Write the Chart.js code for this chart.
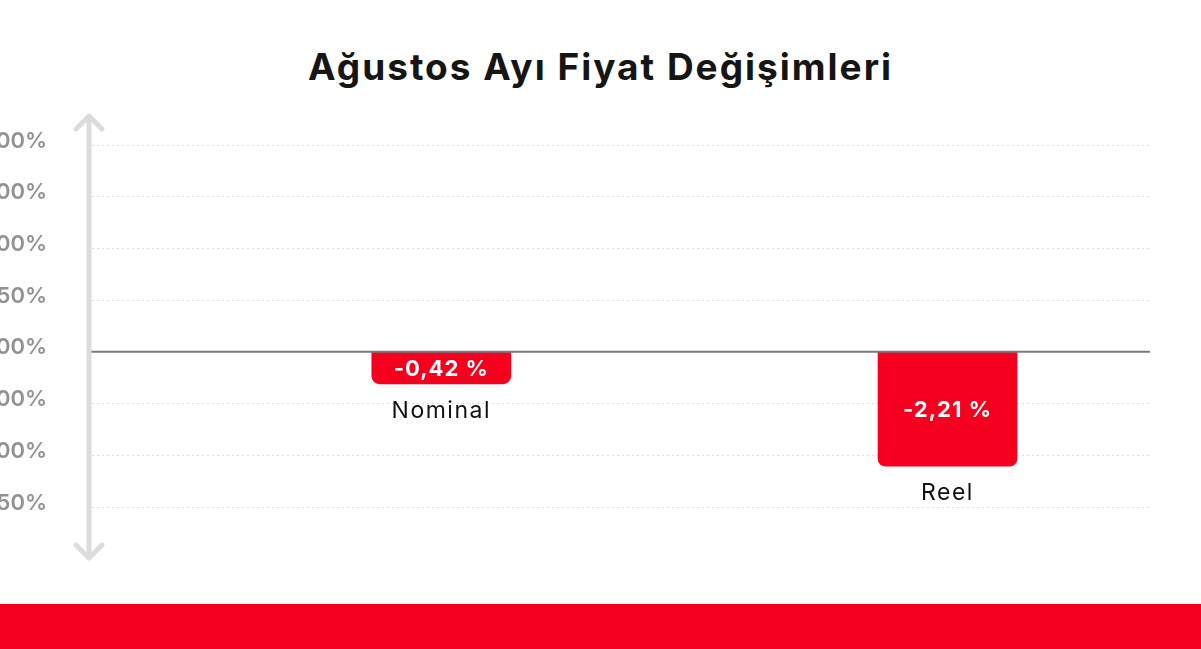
<!DOCTYPE html>
<html lang="tr">
<head>
<meta charset="utf-8">
<title>Ağustos Ayı Fiyat Değişimleri</title>
<style>
  body { margin: 0; background: #fff; overflow: hidden; width: 1201px; height: 649px; position: relative; font-family: Inter, "Noto Sans", sans-serif; }
  #title { position: absolute; top: 44px; left: 0; width: 1201px; text-align: center; font-size: 37px; font-weight: 700; color: #151515; margin: 0; letter-spacing: 2px; }
  #wrap { position: absolute; left: -40px; top: 0; width: 1241px; height: 604px; }
  #band { position: absolute; left: 0; top: 604px; width: 1201px; height: 45px; background: #f5001f; }
</style>
</head>
<body>
<h1 id="title">Ağustos Ayı Fiyat Değişimleri</h1>
<div id="wrap"><canvas id="myChart"></canvas></div>
<div id="band"></div>

<script src="https://cdn.jsdelivr.net/npm/chart.js"></script>
<script>
const categories = ['Nominal', 'Reel'];
const values = [-0.42, -2.21];
const yTickValues = [4, 3, 2, 1, 0, -1, -2, -3];
const yTickLabels = ['4,00%', '3,00%', '2,00%', '1,50%', '0,00%', '-1,00%', '-2,00%', '-2,50%'];

const red = '#f5001f';

function fmt(v) {
  return v.toFixed(2).replace('.', ',') + ' %';
}

// arrow on the y axis, zero line, labels on bars
const decor = {
  id: 'decor',
  afterDatasetsDraw(chart) {
    const {ctx, chartArea, scales} = chart;
    const y0 = scales.y.getPixelForValue(0);
    ctx.save();
    ctx.strokeStyle = '#7a7a7a';
    ctx.lineWidth = 2;
    ctx.beginPath();
    ctx.moveTo(chartArea.left - 2, y0);
    ctx.lineTo(chartArea.right, y0);
    ctx.stroke();
    ctx.restore();
  },
  afterDraw(chart) {
    const {ctx, chartArea} = chart;
    const x = chartArea.left - 3;
    const top = chartArea.top - 29;
    const bot = chartArea.bottom + 51;
    ctx.save();
    ctx.strokeStyle = '#dcdcdc';
    ctx.lineWidth = 5;
    ctx.lineCap = 'round';
    ctx.lineJoin = 'round';
    ctx.beginPath();
    ctx.moveTo(x, top);
    ctx.lineTo(x, bot);
    ctx.moveTo(x - 13, top + 13);
    ctx.lineTo(x, top);
    ctx.lineTo(x + 13, top + 13);
    ctx.moveTo(x - 13, bot - 13);
    ctx.lineTo(x, bot);
    ctx.lineTo(x + 13, bot - 13);
    ctx.stroke();

    const meta = chart.getDatasetMeta(0);
    meta.data.forEach((bar, i) => {
      const top = Math.min(bar.y, bar.base);
      const bottom = Math.max(bar.y, bar.base);
      ctx.textAlign = 'center';
      ctx.textBaseline = 'middle';
      ctx.fillStyle = '#fff';
      ctx.letterSpacing = '1px';
      ctx.font = '700 22px Inter, "Noto Sans", sans-serif';
      ctx.fillText(fmt(values[i]), bar.x, (top + bottom) / 2 + 1);
      ctx.fillStyle = '#111';
      ctx.letterSpacing = '1.5px';
      ctx.font = '400 23px Inter, "Noto Sans", sans-serif';
      ctx.fillText(categories[i], bar.x, bottom + 27);
    });
    ctx.restore();
  }
};

new Chart(document.getElementById('myChart'), {
  type: 'bar',
  data: {
    datasets: [{
      data: values.map((v, i) => ({x: i + 1, y: v})),
      backgroundColor: red,
      borderRadius: 8,
      borderSkipped: 'start',
      barThickness: 139,
      minBarLength: 32
    }]
  },
  options: {
    responsive: true,
    maintainAspectRatio: false,
    animation: false,
    layout: { padding: { top: 145, right: 51, bottom: 97, left: 0 } },
    plugins: { legend: { display: false }, tooltip: { enabled: false }, title: { display: false } },
    scales: {
      x: {
        type: 'linear',
        offset: false,
        min: 0.31,
        max: 2.40,
        display: false
      },
      y: {
        min: -3,
        max: 4,
        afterFit(scale) { scale.width = 132; },
        afterBuildTicks(scale) { scale.ticks = yTickValues.map(v => ({value: v})); },
        border: { display: false, dash: [2, 3] },
        grid: { color: '#dedede', lineWidth: 1, drawTicks: false },
        ticks: {
          padding: 45,
          labelOffset: -4,
          color: '#929292',
          font: { family: 'Inter, "Noto Sans", sans-serif', size: 22, weight: '600' },
          callback(v) {
            const i = yTickValues.indexOf(v);
            return i >= 0 ? yTickLabels[i] : '';
          }
        }
      }
    }
  },
  plugins: [decor]
});
</script>
</body>
</html>
